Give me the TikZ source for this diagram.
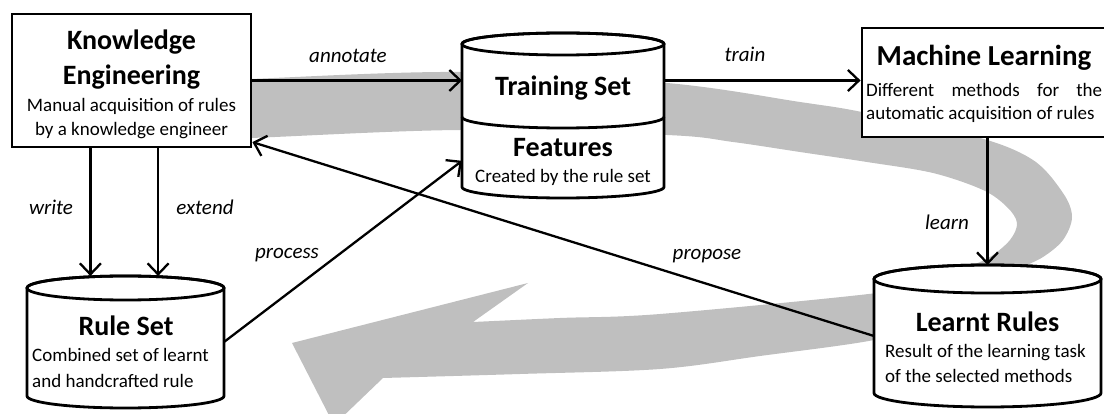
\documentclass[tikz,border=0pt]{standalone}
\usepackage{fontspec}
\setmainfont{Carlito}
\usetikzlibrary{arrows.meta,calc}
\definecolor{bandgray}{RGB}{191,191,191}

% drum outline: left, right, y of top cap, y of bottom cap, cap half-height
\newcommand\drumpath[5]{%
  \pgfmathsetlengthmacro\drumrx{(#2-#1)/2*1pt}%
  \pgfmathsetmacro\drumcx{(#2+#1)/2}%
  \draw[boxline] (#1,#3) -- (#1,#4)
    arc[start angle=180,end angle=360,x radius=\drumrx,y radius=#5pt]
    -- (#2,#3)
    arc[start angle=0,end angle=180,x radius=\drumrx,y radius=#5pt] -- cycle;
  \draw[line width=2.8pt] (\drumcx,#3) ellipse[x radius=\drumrx,y radius=#5pt];
}

\begin{document}
\begin{tikzpicture}[x=1pt,y=-1pt,
  boxline/.style={draw=black,line width=2.8pt,fill=white},
  frame/.style={draw=none,inner sep=0pt,outer sep=0pt},
  conn/.style={line width=2.3pt,-{Straight Barb[length=11pt,width=21pt,line width=2.3pt]}},
  lbl/.style={font=\fontsize{21}{24}\selectfont\itshape,anchor=base,inner sep=0pt},
  ttl/.style={font=\fontsize{28}{30}\selectfont\bfseries,anchor=base,inner sep=0pt},
  sub/.style={font=\fontsize{19}{23}\selectfont,anchor=base,inner sep=0pt},
  subl/.style={font=\fontsize{19}{23}\selectfont,anchor=base west,inner sep=0pt},
]
\useasboundingbox (0,0) rectangle (1104,414);
\clip (0,0) rectangle (1104,414);

% the grey cycle arrow running behind everything
\fill[bandgray]
  plot[smooth,tension=0.55] coordinates {(200,82) (251,79) (460,72) (667,83)
    (800,102) (862,112) (977,137) (1033,160) (1063,193) (1072,217) (1063,240)
    (1043,257) (1017,270) (975,295) (930,322) (874,340) (760,356) (660,369)
    (520,374) (383,378)}
  -- (334,425) -- (292,343) -- (528,283) -- (473,322)
  -- plot[smooth,tension=0.55] coordinates {(473,322) (560,318) (660,314)
    (877,293) (925,281) (967,267) (990,257) (1010,240) (1017,223) (1007,207)
    (983,190) (933,173) (867,162) (800,152) (733,142) (667,135) (460,130)
    (251,138) (200,139)}
  -- cycle;

% boxes
\node[boxline,inner sep=0pt,minimum width=239pt,minimum height=133pt] (ke) at (131.5,80.5) {};
\node[boxline,inner sep=0pt,minimum width=251pt,minimum height=109pt] (ml) at (987.5,82.5) {};

% drums
\drumpath{462}{664}{44}{187}{11}
\draw[line width=2.8pt] (462,117) arc[start angle=180,end angle=360,x radius=101pt,y radius=11pt];
\drumpath{874}{1101}{279}{393}{14}
\drumpath{27}{224}{288}{396}{12}

% anchor frames of the drums
\node[frame,minimum width=202pt,minimum height=73pt] (tstop) at (563,80.5) {};
\node[frame,minimum width=202pt,minimum height=70pt] (tsbot) at (563,152) {};
\node[frame,minimum width=227pt,minimum height=142pt] (lr) at (987.5,336) {};
\node[frame,minimum width=197pt,minimum height=132pt] (rs) at (125.5,342) {};

% texts
\node[ttl] (keA) at (131.5,50) {Knowledge};
\node[ttl] (keB) at (131.5,85) {Engineering};
\node[sub] (keC) at (131.5,112) {Manual acquisition of rules};
\node[sub] (keD) at (131.5,136) {by a knowledge engineer};

\node[ttl] (tsA) at (563,96) {Training Set};
\node[ttl] (tsB) at (563,157) {Features};
\node[sub] (tsC) at (563,183) {Created by the rule set};

\node[ttl,font=\fontsize{29}{31}\selectfont\bfseries] (mlA) at (984,66) {Machine Learning};
\node[subl] (mlB) at (866,97) {\makebox[236pt][s]{Different methods for the}};
\node[subl] (mlC) at (866,119.5) {automatic acquisition of rules};

\node[ttl] (lrA) at (987.5,332) {Learnt Rules};
\node[subl] (lrB) at (885,357) {Result of the learning task};
\node[subl] (lrC) at (885,382) {of the selected methods};

\node[ttl] (rsA) at (126,336) {Rule Set};
\node[subl] (rsB) at (32,362) {Combined set of learnt};
\node[subl] (rsC) at (32,387) {and handcrafted rule};

% connectors
\path ($(ke.south west)!0.33!(ke.south east)$) coordinate (w1);
\path ($(ke.south west)!0.61!(ke.south east)$) coordinate (w2);
\draw[conn] (ke.east) -- (tstop.west);
\draw[conn] (tstop.east) -- (tstop.east -| ml.west);
\draw[conn] (ml.south) -- (lr.north);
\draw[conn] (w1) -- (w1 |- rs.north);
\draw[conn] (w2) -- (w2 |- rs.north);
\draw[conn] (rs.east) -- (tsbot.185);
\draw[conn] (lr.west) -- (ke.-27);

% connector labels
\node[lbl] (lannotate) at (348,63) {annotate};
\node[lbl] (ltrain) at (745,62) {train};
\node[lbl] (lwrite) at (51,215) {write};
\node[lbl] (lextend) at (205,215) {extend};
\node[lbl] (lprocess) at (287,259) {process};
\node[lbl] (lpropose) at (707,260) {propose};
\node[lbl] (llearn) at (947,230) {learn};
\end{tikzpicture}
\end{document}
